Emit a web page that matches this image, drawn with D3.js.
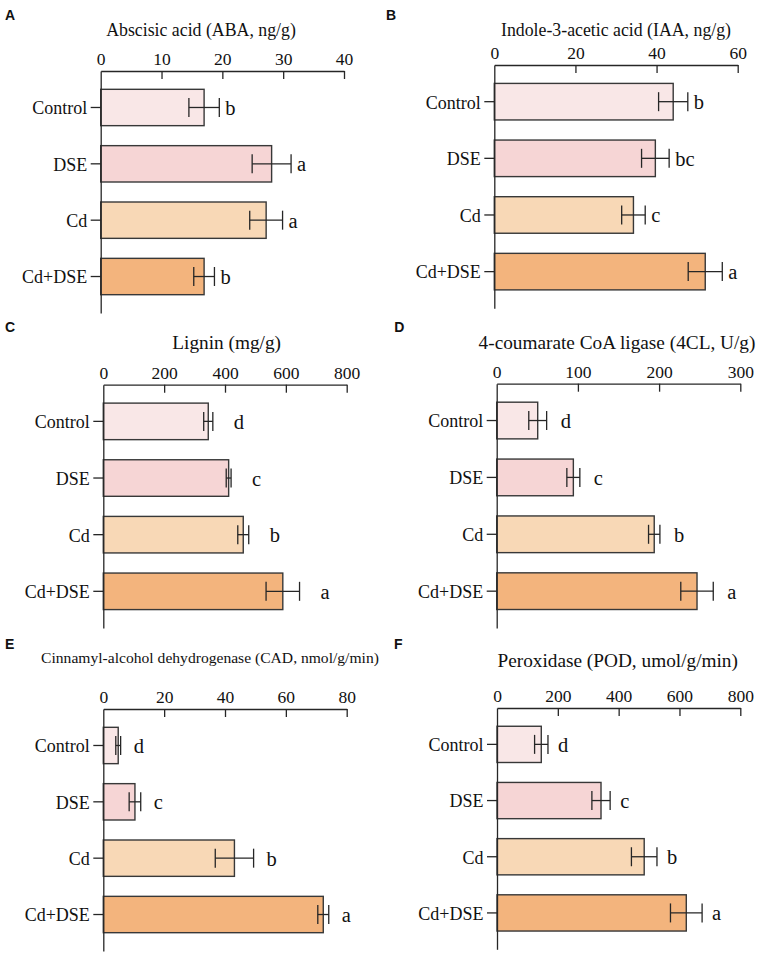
<!DOCTYPE html>
<html>
<head>
<meta charset="utf-8">
<script src="https://cdn.jsdelivr.net/npm/d3@7"></script>
<style>
  html, body { margin: 0; padding: 0; background: #fff; }
  svg { display: block; }
</style>
</head>
<body>
<svg id="chart" width="762" height="955"></svg>
<script>
// ---------------- DATA ----------------
const categories = ["Control", "DSE", "Cd", "Cd+DSE"];
const barColors = ["#F9E7E7", "#F6D5D5", "#F8D8B6", "#F3B47D"];

const abaTitle = "Abscisic acid (ABA, ng/g)";
const abaTicks = [0, 10, 20, 30, 40];
const abaMean = [17.0, 28.1, 27.2, 17.0];
const abaErr = [2.5, 3.2, 2.7, 1.7];
const abaLetters = ["b", "a", "a", "b"];

const iaaTitle = "Indole-3-acetic acid (IAA, ng/g)";
const iaaTicks = [0, 20, 40, 60];
const iaaMean = [44.1, 39.7, 34.3, 52.0];
const iaaErr = [3.6, 3.4, 2.9, 4.2];
const iaaLetters = ["b", "bc", "c", "a"];

const ligTitle = "Lignin (mg/g)";
const ligTicks = [0, 200, 400, 600, 800];
const ligMean = [345, 412, 460, 590];
const ligErr = [15, 8, 18, 55];
const ligLetters = ["d", "c", "b", "a"];

const clTitle = "4-coumarate CoA ligase (4CL, U/g)";
const clTicks = [0, 100, 200, 300];
const clMean = [50.5, 94.4, 194, 246.7];
const clErr = [11, 8, 7, 20];
const clLetters = ["d", "c", "b", "a"];

const cadTitle = "Cinnamyl-alcohol dehydrogenase (CAD, nmol/g/min)";
const cadTicks = [0, 20, 40, 60, 80];
const cadMean = [4.9, 10.4, 43.1, 72.3];
const cadErr = [0.8, 1.9, 6.3, 1.8];
const cadLetters = ["d", "c", "b", "a"];

const podTitle = "Peroxidase (POD, umol/g/min)";
const podTicks = [0, 200, 400, 600, 800];
const podMean = [145.6, 342, 484, 622.4];
const podErr = [22, 30, 42, 52];
const podLetters = ["d", "c", "b", "a"];

// ---------------- LAYOUT ----------------
const panels = [
  { tag: "A", title: abaTitle, ticks: abaTicks, mean: abaMean, err: abaErr, letters: abaLetters,
    x0: 100.7, x1: 344, top: 71, bottom: 313, tx: 201, ty: 36, ts: 17.8, lx: 5, ly: 19.5, gap: 6 },
  { tag: "B", title: iaaTitle, ticks: iaaTicks, mean: iaaMean, err: iaaErr, letters: iaaLetters,
    x0: 494.3, x1: 737.7, top: 65, bottom: 308.3, tx: 616, ty: 36, ts: 17.8, lx: 386, ly: 19.5, gap: 6 },
  { tag: "C", title: ligTitle, ticks: ligTicks, mean: ligMean, err: ligErr, letters: ligLetters,
    x0: 103.3, x1: 346.7, top: 384.7, bottom: 628, tx: 226.7, ty: 349, ts: 19.3, lx: 5, ly: 331.5, gap: 21 },
  { tag: "D", title: clTitle, ticks: clTicks, mean: clMean, err: clErr, letters: clLetters,
    x0: 496.7, x1: 740.3, top: 383.7, bottom: 628, tx: 617, ty: 349, ts: 19.3, lx: 394.3, ly: 331.5, gap: 14 },
  { tag: "E", title: cadTitle, ticks: cadTicks, mean: cadMean, err: cadErr, letters: cadLetters,
    x0: 103.3, x1: 346.7, top: 709, bottom: 951, tx: 210, ty: 663, ts: 15.6, lx: 5, ly: 648.9, gap: 13 },
  { tag: "F", title: podTitle, ticks: podTicks, mean: podMean, err: podErr, letters: podLetters,
    x0: 497, x1: 740.3, top: 708, bottom: 949.3, tx: 617.7, ty: 667, ts: 19.3, lx: 394, ly: 648.9, gap: 10 }
];

const SERIF = "'Liberation Serif', 'Times New Roman', serif";
const SANS = "'Liberation Sans', Arial, sans-serif";
const INK = "#262626";

const svg = d3.select("#chart");

panels.forEach(p => {
  const g = svg.append("g");
  const x = d3.scaleLinear()
    .domain([p.ticks[0], p.ticks[p.ticks.length - 1]])
    .range([p.x0, p.x1]);
  const y = d3.scaleBand()
    .domain(categories)
    .range([p.top, p.bottom])
    .paddingInner(0.355)
    .paddingOuter(0.325);

  // panel tag
  g.append("text")
    .attr("x", p.lx).attr("y", p.ly)
    .attr("font-family", SANS).attr("font-weight", "bold")
    .attr("font-size", 14).attr("fill", "#111")
    .text(p.tag);

  // title
  g.append("text")
    .attr("x", p.tx).attr("y", p.ty)
    .attr("text-anchor", "middle")
    .attr("font-family", SERIF).attr("font-size", p.ts).attr("fill", "#111")
    .text(p.title);

  // bars
  g.selectAll("rect.bar")
    .data(categories)
    .join("rect")
    .attr("class", "bar")
    .attr("x", x(0))
    .attr("y", d => y(d))
    .attr("width", (d, i) => x(p.mean[i]) - x(0))
    .attr("height", y.bandwidth())
    .attr("fill", (d, i) => barColors[i])
    .attr("stroke", "#383838")
    .attr("stroke-width", 1.4);

  // error bars
  const eb = g.selectAll("g.err")
    .data(categories)
    .join("g")
    .attr("class", "err")
    .attr("stroke", INK)
    .attr("stroke-width", 1.3);
  const cap = 9.5;
  eb.append("line")
    .attr("x1", (d, i) => x(p.mean[i] - p.err[i]))
    .attr("x2", (d, i) => x(p.mean[i] + p.err[i]))
    .attr("y1", d => y(d) + y.bandwidth() / 2)
    .attr("y2", d => y(d) + y.bandwidth() / 2);
  eb.append("line")
    .attr("x1", (d, i) => x(p.mean[i] - p.err[i]))
    .attr("x2", (d, i) => x(p.mean[i] - p.err[i]))
    .attr("y1", d => y(d) + y.bandwidth() / 2 - cap)
    .attr("y2", d => y(d) + y.bandwidth() / 2 + cap);
  eb.append("line")
    .attr("x1", (d, i) => x(p.mean[i] + p.err[i]))
    .attr("x2", (d, i) => x(p.mean[i] + p.err[i]))
    .attr("y1", d => y(d) + y.bandwidth() / 2 - cap)
    .attr("y2", d => y(d) + y.bandwidth() / 2 + cap);

  // significance letters
  g.selectAll("text.sig")
    .data(categories)
    .join("text")
    .attr("class", "sig")
    .attr("x", (d, i) => x(p.mean[i] + p.err[i]) + p.gap)
    .attr("y", d => y(d) + y.bandwidth() / 2 + 7.5)
    .attr("font-family", SERIF).attr("font-size", 20.5).attr("fill", "#111")
    .text((d, i) => p.letters[i]);

  // top axis
  const ax = g.append("g")
    .attr("transform", `translate(0,${p.top})`)
    .call(d3.axisTop(x).tickValues(p.ticks).tickSizeInner(-8).tickSizeOuter(0).tickPadding(6));
  ax.selectAll("text").attr("font-family", SERIF).attr("font-size", 17.5).attr("fill", "#111");
  ax.select(".domain").attr("stroke", INK).attr("stroke-width", 1.3);
  ax.selectAll(".tick line").attr("stroke", INK).attr("stroke-width", 1.3);
  ax.selectAll(".tick").filter(d => d === p.ticks[0]).select("line").remove();

  // left axis
  const ay = g.append("g")
    .attr("transform", `translate(${p.x0},0)`)
    .call(d3.axisLeft(y).tickSizeInner(10).tickSizeOuter(0).tickPadding(3.5));
  ay.selectAll("text").attr("font-family", SERIF).attr("font-size", 18).attr("fill", "#111").attr("dy", "0.38em");
  ay.select(".domain").attr("stroke", INK).attr("stroke-width", 1.3);
  ay.selectAll(".tick line").attr("stroke", INK).attr("stroke-width", 1.3);
});
</script>
</body>
</html>
